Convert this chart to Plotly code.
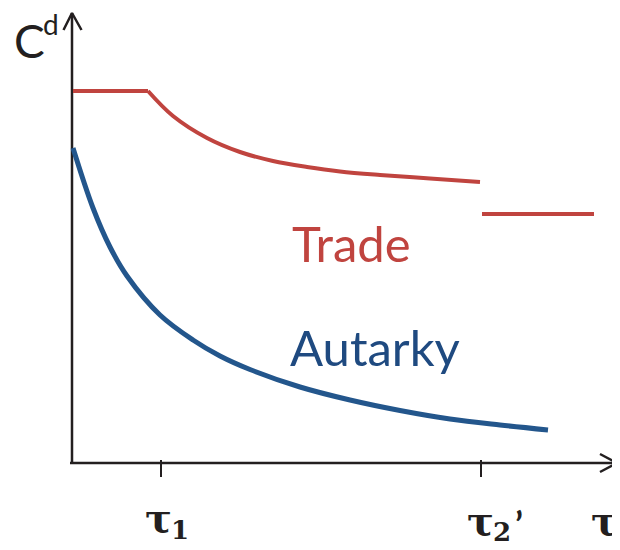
import plotly.graph_objects as go

# ---- data (x = tariff tau, y = C^d) ----
trade_flat_x = [0.01, 0.76]
trade_flat_y = [3.72, 3.72]
trade_curve_x = [0.76, 1.01, 1.35, 1.68, 2.01, 2.35, 2.68, 3.08, 3.58, 4.08]
trade_curve_y = [3.72, 3.47, 3.25, 3.11, 3.02, 2.96, 2.915, 2.88, 2.845, 2.81]
trade_high_x = [4.10, 5.22]
trade_high_y = [2.49, 2.49]
autarky_x = [0.01, 0.21, 0.38, 0.55, 0.88, 1.21, 1.48, 1.78, 2.28, 2.78, 3.28, 3.78, 4.28, 4.76]
autarky_y = [3.15, 2.55, 2.16, 1.87, 1.48, 1.23, 1.07, 0.935, 0.76, 0.63, 0.525, 0.44, 0.38, 0.33]
tick_vals = [0.89, 4.09]
tick_base = ["τ", "τ"]
tick_subs = ["1", "2"]
tick_prime = ["", "’"]
axis_label_x = "τ"

RED = "#c0443f"
BLUE = "#23568c"
BLUE_TXT = "#1f4a80"
AX = "#231f20"

fig = go.Figure()

# axes drawn as lines with open arrowheads
fig.add_trace(go.Scatter(x=[0, 0], y=[0, 4.50], mode="lines",
                         line=dict(color=AX, width=2.5), hoverinfo="skip"))
fig.add_trace(go.Scatter(x=[-0.085, 0, 0.095], y=[4.33, 4.50, 4.33], mode="lines",
                         line=dict(color=AX, width=2.5), hoverinfo="skip"))
fig.add_trace(go.Scatter(x=[-0.02, 5.45], y=[0, 0], mode="lines",
                         line=dict(color=AX, width=2.5), hoverinfo="skip"))
fig.add_trace(go.Scatter(x=[5.28, 5.45, 5.28], y=[0.09, 0, -0.09], mode="lines",
                         line=dict(color=AX, width=2.5), hoverinfo="skip"))
for tv in tick_vals:
    fig.add_trace(go.Scatter(x=[tv, tv], y=[0.03, -0.14], mode="lines",
                             line=dict(color=AX, width=2), hoverinfo="skip"))

# curves
fig.add_trace(go.Scatter(x=trade_flat_x, y=trade_flat_y, mode="lines",
                         line=dict(color=RED, width=4)))
fig.add_trace(go.Scatter(x=trade_curve_x, y=trade_curve_y, mode="lines",
                         line=dict(color=RED, width=4, shape="spline", smoothing=1.0)))
fig.add_trace(go.Scatter(x=trade_high_x, y=trade_high_y, mode="lines",
                         line=dict(color=RED, width=4)))
fig.add_trace(go.Scatter(x=autarky_x, y=autarky_y, mode="lines",
                         line=dict(color=BLUE, width=5, shape="spline", smoothing=1.0)))

ann = []
def txt(x, y, s, size, color, family="Lato", xanchor="center"):
    ann.append(dict(x=x, y=y, text=s, showarrow=False, xanchor=xanchor, yanchor="middle",
                    font=dict(size=size, color=color, family=family)))

txt(2.795, 2.20, "Trade", 49, RED)
txt(3.03, 1.16, "Autarky", 49, BLUE_TXT)
txt(-0.43, 4.23, "C", 46, AX)
txt(-0.21, 4.39, "d", 28, AX)

# tick labels (bold serif), built from the tick lists
pos = [(-0.025, -0.54, 0.185, -0.67), (-0.005, -0.57, 0.205, -0.685)]
for tv, b, s, p, (bx, by, sx, sy) in zip(tick_vals, tick_base, tick_subs, tick_prime, pos):
    txt(tv + bx, by, "<b>%s</b>" % b, 40, AX, family="DejaVu Serif")
    txt(tv + sx, sy, "<b>%s</b>" % s, 26, AX, family="DejaVu Serif")
    if p:
        txt(tv + 0.375, -0.61, "<b>%s</b>" % p, 36, AX, family="Lato")
txt(5.32, -0.57, "<b>%s</b>" % axis_label_x, 40, AX, family="DejaVu Serif")

fig.update_layout(
    width=620, height=550,
    margin=dict(l=0, r=0, t=0, b=0),
    paper_bgcolor="white", plot_bgcolor="white",
    showlegend=False,
    xaxis=dict(range=[-0.64, 5.56], visible=False, fixedrange=True),
    yaxis=dict(range=[-0.95, 4.55], visible=False, fixedrange=True),
    annotations=ann,
)

fig.write_html("out.html")
